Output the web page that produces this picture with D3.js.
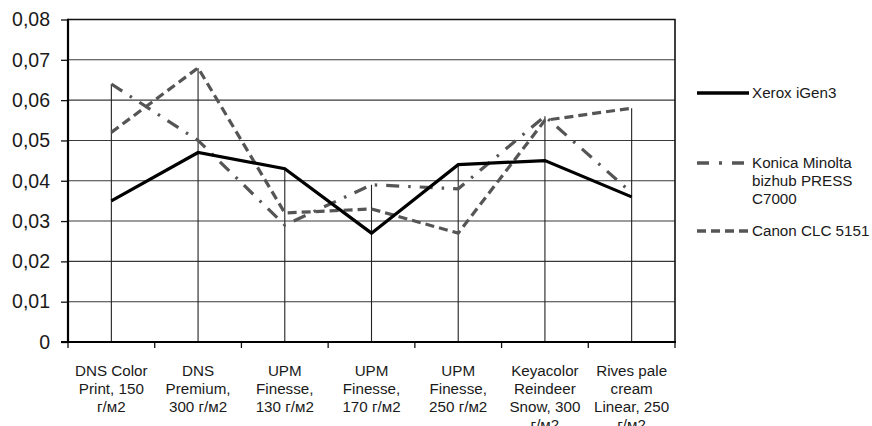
<!DOCTYPE html>
<html><head><meta charset="utf-8">
<script src="https://cdn.jsdelivr.net/npm/d3@7"></script>
<style>
html,body{margin:0;padding:0;background:#fff;}
svg{display:block;}
text{font-family:"Liberation Sans",Arial,sans-serif;fill:#1a1a1a;}
</style></head>
<body><svg id="chart" width="872" height="426"></svg>
<script>
const categories = [
  ["DNS Color","Print, 150","г/м2"],
  ["DNS","Premium,","300 г/м2"],
  ["UPM","Finesse,","130 г/м2"],
  ["UPM","Finesse,","170 г/м2"],
  ["UPM","Finesse,","250 г/м2"],
  ["Keyacolor","Reindeer","Snow, 300","г/м2"],
  ["Rives pale","cream","Linear, 250","г/м2"]
];
const seriesNames = ["Xerox iGen3", ["Konica Minolta","bizhub PRESS","C7000"], "Canon CLC 5151"];
const xerox  = [0.035, 0.047, 0.043, 0.027, 0.044, 0.045, 0.036];
const konica = [0.064, 0.050, 0.029, 0.039, 0.038, 0.056, 0.037];
const canon  = [0.052, 0.068, 0.032, 0.033, 0.027, 0.055, 0.058];
const yTicks = [0, 0.01, 0.02, 0.03, 0.04, 0.05, 0.06, 0.07, 0.08];
const yTickLabels = ["0","0,01","0,02","0,03","0,04","0,05","0,06","0,07","0,08"];

const svg = d3.select("#chart");
const L = 68, R = 675, T = 19.5, B = 342;
const idx = categories.map((_, i) => i);
const x = d3.scaleBand().domain(idx).range([L, R]);
const y = d3.scaleLinear().domain([0, 0.08]).range([B, T]);
const cx = i => x(i) + x.bandwidth() / 2;

// horizontal grid
svg.append("g").selectAll("line").data(yTicks.slice(1, -1)).join("line")
  .attr("x1", L).attr("x2", R).attr("y1", d => y(d)).attr("y2", d => y(d))
  .attr("stroke", "#3a3a3a").attr("stroke-width", 1.1);

// drop lines from max value to axis
const maxes = idx.map(i => d3.max([xerox[i], konica[i], canon[i]]));
svg.append("g").selectAll("line").data(idx).join("line")
  .attr("x1", i => cx(i)).attr("x2", i => cx(i))
  .attr("y1", i => y(maxes[i])).attr("y2", B)
  .attr("stroke", "#222").attr("stroke-width", 1.1);

// border top/right
svg.append("path").attr("d", `M${L},${T}H${R}V${B}`).attr("fill", "none")
  .attr("stroke", "#111").attr("stroke-width", 1.6);

// series
const line = d3.line().x((d, i) => cx(i)).y(d => y(d));
const styles = [
  {data: canon,  color: "#555", dash: "9,5", w: 3.2},
  {data: konica, color: "#555", dash: "13,9,2.5,9", w: 3.2},
  {data: xerox,  color: "#000", dash: null, w: 3.2}
];
styles.forEach(s => {
  svg.append("path").datum(s.data).attr("d", line)
    .attr("fill", "none").attr("stroke", s.color).attr("stroke-width", s.w)
    .attr("stroke-dasharray", s.dash).attr("stroke-linejoin", "miter");
});

// y axis
const yAxis = svg.append("g").attr("transform", `translate(${L},0)`)
  .call(d3.axisLeft(y).tickValues(yTicks).tickSize(7).tickPadding(11)
    .tickFormat((d, i) => yTickLabels[i]));
yAxis.select(".domain").remove();
yAxis.selectAll(".tick line").attr("stroke", "#111").attr("stroke-width", 1.3);
yAxis.selectAll("text").attr("font-size", 19.5).attr("fill", "#1a1a1a")
  .attr("font-family", '"Liberation Sans",Arial,sans-serif');
svg.append("line").attr("x1", L).attr("x2", L).attr("y1", T - 0.8).attr("y2", B + 1)
  .attr("stroke", "#000").attr("stroke-width", 2.2);

// x axis
const xb = svg.append("g");
const bounds = idx.map(i => x(i)).concat([R]);
xb.selectAll("line").data(bounds).join("line")
  .attr("x1", d => d).attr("x2", d => d).attr("y1", B).attr("y2", B + 6)
  .attr("stroke", "#111").attr("stroke-width", 1.3);
svg.append("line").attr("x1", L - 7).attr("x2", R + 1).attr("y1", B).attr("y2", B)
  .attr("stroke", "#000").attr("stroke-width", 2.2);

const lab = svg.append("g");
categories.forEach((lines, i) => {
  const t = lab.append("text").attr("text-anchor", "middle").attr("font-size", 15.2)
    .attr("x", cx(i)).attr("y", 376);
  lines.forEach((s, k) => t.append("tspan").attr("x", cx(i)).attr("y", 376 + k * 18).text(s));
});

// legend
const legY = [93, 163, 231];
const legStyles = [styles[2], styles[1], styles[0]];
seriesNames.forEach((n, i) => {
  const s = legStyles[i];
  svg.append("line").attr("x1", 697).attr("x2", 749).attr("y1", legY[i]).attr("y2", legY[i])
    .attr("stroke", s.color).attr("stroke-width", i === 0 ? 3.6 : 3.4)
    .attr("stroke-dasharray", i === 1 ? "12,10,3,10" : (i === 2 ? "9,5" : null));
  const t = svg.append("text").attr("font-size", 15.2).attr("x", 752).attr("y", legY[i] + 5);
  const arr = Array.isArray(n) ? n : [n];
  arr.forEach((s2, k) => t.append("tspan").attr("x", 752).attr("y", legY[i] + 5 + k * 18).text(s2));
});
</script></body></html>
